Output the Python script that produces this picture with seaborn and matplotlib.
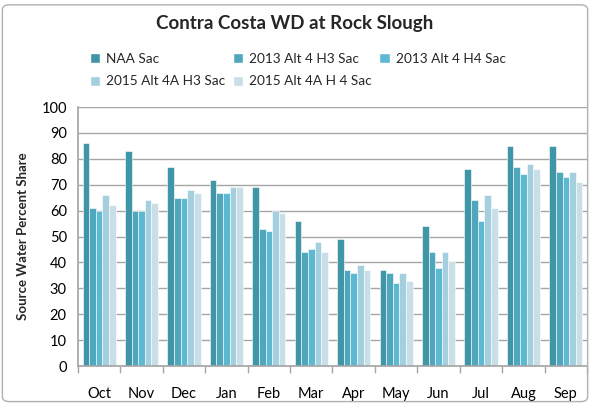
import seaborn as sns
import pandas as pd
import matplotlib.pyplot as plt
from matplotlib.patches import FancyBboxPatch, Patch

# DATA
months = ["Oct", "Nov", "Dec", "Jan", "Feb", "Mar", "Apr", "May", "Jun", "Jul", "Aug", "Sep"]
series = ["NAA Sac", "2013 Alt 4 H3 Sac", "2013 Alt 4 H4 Sac", "2015 Alt 4A H3 Sac", "2015 Alt 4A H 4 Sac"]
naa_sac = [86, 83, 77, 72, 69, 56, 49, 37, 54, 76, 85, 85]
alt4_h3_2013 = [61, 60, 65, 67, 53, 44, 37, 36, 44, 64, 77, 75]
alt4_h4_2013 = [60, 60, 65, 67, 52, 45, 36, 32, 38, 56, 74, 73]
alt4a_h3_2015 = [66, 64, 68, 69, 60, 48, 39, 36, 44, 66, 78, 75]
alt4a_h4_2015 = [62, 63, 67, 69, 59, 44, 37, 33, 40, 61, 76, 71]

colors = ["#4095a6", "#4fa7bd", "#5cb9d1", "#a3cfdf", "#c8dfe8"]

rows = []
for name, vals in zip(series, [naa_sac, alt4_h3_2013, alt4_h4_2013, alt4a_h3_2015, alt4a_h4_2015]):
    for m, v in zip(months, vals):
        rows.append({"Month": m, "Series": name, "Share": v})
df = pd.DataFrame(rows)

# THEME
sns.set_theme(style="white")
plt.rcParams["font.family"] = ["Lato", "DejaVu Sans"]

fig = plt.figure(figsize=(5.9, 4.04), dpi=100)
ax = fig.add_axes([0.132, 0.094, 0.863, 0.641])

sns.barplot(data=df, x="Month", y="Share", hue="Series", order=months, hue_order=series,
            palette=colors, width=0.78, saturation=1, edgecolor="white", linewidth=0.4,
            legend=False, ax=ax)

ax.set_ylim(0, 100)
ax.set_yticks(range(0, 101, 10))
ax.set_xlim(-0.5, len(months) - 0.5)
ax.yaxis.grid(True, color="#a6a6a6", linewidth=1)
ax.set_axisbelow(True)
for s in ["top", "right"]:
    ax.spines[s].set_visible(False)
ax.spines["left"].set_color("#a6a6a6")
ax.spines["bottom"].set_color("#a6a6a6")

# tick marks between months
ax.set_xticks([i - 0.5 for i in range(len(months) + 1)], minor=True)
ax.tick_params(axis="x", which="minor", length=5, color="#a6a6a6", width=1, bottom=True)
ax.tick_params(axis="x", which="major", length=0, labelsize=10.5, pad=15, colors="black")
ax.tick_params(axis="y", length=0, labelsize=10.5, pad=8, colors="black")
ax.set_xlabel("")
ax.set_ylabel("Source Water Percent Share", fontsize=9.5, fontweight="bold", labelpad=9)

fig.text(0.5, 0.943, "Contra Costa WD at Rock Slough", ha="center", va="center",
         fontsize=13.5, fontweight="bold")

# legend in row order
handles = [Patch(facecolor=c, label=s) for c, s in zip(colors, series)]
order = [0, 3, 1, 4, 2]
fig.legend([handles[i] for i in order], [series[i] for i in order], ncol=3,
           loc="upper left", bbox_to_anchor=(0.152, 0.870), frameon=False,
           fontsize=9.8, handlelength=0.75, handleheight=0.75, handletextpad=0.45,
           columnspacing=0.55, labelspacing=0.8, borderaxespad=0, borderpad=0)

fig.patches.append(FancyBboxPatch((0.004, 0.006), 0.992, 0.982, boxstyle="round,pad=0,rounding_size=0.012",
                                  transform=fig.transFigure, facecolor="none",
                                  edgecolor="#b0b0b0", linewidth=1))

fig.savefig("out.png", dpi=100)
